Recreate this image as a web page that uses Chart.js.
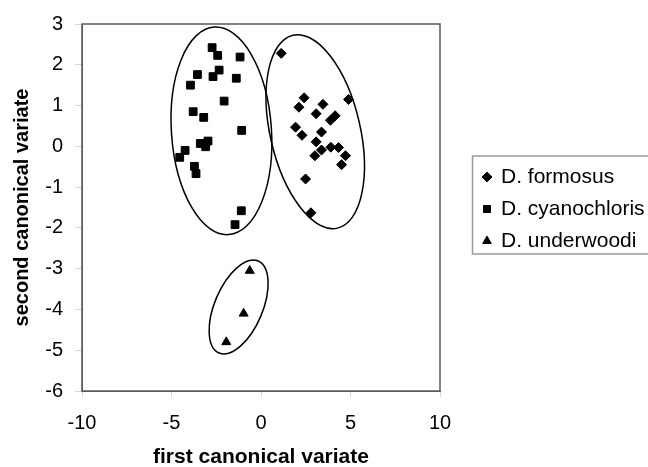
<!DOCTYPE html>
<html>
<head>
<meta charset="utf-8">
<script src="https://cdn.jsdelivr.net/npm/chart.js@4/dist/chart.umd.min.js"></script>
<style>
body{margin:0;background:#fff;}
#wrap{width:648px;height:467px;}
</style>
</head>
<body>
<div id="wrap"><canvas id="cv"></canvas></div>
<script>
// series values
const formosusX = [1.13,2.41,4.89,2.12,3.46,3.08,4.14,3.88,1.93,2.29,3.38,3.08,3.38,3.90,4.33,3.01,4.72,4.50,2.49,2.79]
const formosusY = [2.28,1.19,1.15,0.96,1.03,0.80,0.75,0.64,0.47,0.27,0.35,0.11,-0.09,-0.02,-0.03,-0.23,-0.23,-0.45,-0.80,-1.63]

const cyanoX = [-2.73,-2.42,-1.17,-2.34,-3.55,-2.68,-1.38,-3.94,-2.06,-3.79,-3.20,-1.08,-2.96,-3.39,-3.09,-4.24,-4.54,-3.72,-3.63,-1.10,-1.45]
const cyanoY = [2.42,2.23,2.19,1.87,1.76,1.71,1.67,1.50,1.11,0.85,0.71,0.39,0.13,0.07,-0.01,-0.10,-0.27,-0.49,-0.67,-1.58,-1.92]

const underX = [-0.63,-0.97,-1.94]
const underY = [-3.05,-4.10,-4.80]

const seriesNames = ["D. formosus","D. cyanochloris","D. underwoodi"]
const xTicks = [-10,-5,0,5,10]
const yTicks = [3,2,1,0,-1,-2,-3,-4,-5,-6]

// group ellipses: centre in data units, radii in px, rotation in degrees
const ellipses = [
  {cx:-2.21, cy:0.38, rx:50, ry:104, rot:-4},
  {cx:3.03, cy:0.36, rx:45, ry:99, rot:-13},
  {cx:-1.25, cy:-3.94, rx:24, ry:50, rot:23}
]

const pts = (xs,ys)=>xs.map((x,i)=>({x:x,y:ys[i]}))

const FONT = "'Liberation Sans', Arial, sans-serif"

// legend frame (px)
const LEG = {left:472.5, top:156, bottom:254}

const extras = {
  id:"extras",
  afterLayout(chart){
    const l = chart.legend
    l.left = LEG.left; l.top = LEG.top - 0.5
    l.right = 720; l.bottom = 340
    l.width = l.right - l.left; l.height = l.bottom - l.top
  },
  beforeDatasetsDraw(chart){
    const c = chart.ctx, a = chart.chartArea
    const sx = chart.scales.x, sy = chart.scales.y
    c.save()
    c.strokeStyle = "#5a5a5a"
    c.lineWidth = 1.5
    c.strokeRect(a.left, a.top, a.right-a.left, a.bottom-a.top)
    c.strokeStyle = "#000"
    c.lineWidth = 1.5
    ellipses.forEach(e=>{
      c.beginPath()
      c.ellipse(sx.getPixelForValue(e.cx), sy.getPixelForValue(e.cy), e.rx, e.ry, e.rot*Math.PI/180, 0, Math.PI*2)
      c.stroke()
    })
    c.strokeStyle = "#999"
    c.lineWidth = 1.5
    c.strokeRect(LEG.left, LEG.top, 700-LEG.left, LEG.bottom-LEG.top)
    c.restore()
  }
}

new Chart(document.getElementById("cv"),{
  type:"scatter",
  data:{
    datasets:[
      {label:seriesNames[0], data:pts(formosusX,formosusY), pointStyle:"rectRot", pointRadius:5, backgroundColor:"#000", borderColor:"#000"},
      {label:seriesNames[1], data:pts(cyanoX,cyanoY), pointStyle:"rect", pointRadius:5.5, backgroundColor:"#000", borderColor:"#000"},
      {label:seriesNames[2], data:pts(underX,underY), pointStyle:"triangle", pointRadius:5.2, backgroundColor:"#000", borderColor:"#000"}
    ]
  },
  options:{
    responsive:true,
    maintainAspectRatio:false,
    animation:false,
    layout:{padding:{top:20.7, right:208, bottom:0, left:0}},
    plugins:{
      legend:{
        position:"chartArea",
        align:"start",
        labels:{usePointStyle:true, boxHeight:7, boxWidth:7, color:"#000", padding:11, font:{family:FONT, size:21}}
      },
      tooltip:{enabled:false}
    },
    scales:{
      x:{
        type:"linear", min:-10, max:10,
        afterBuildTicks(s){ s.ticks = xTicks.map(v=>({value:v})) },
        afterFit(s){ s.height = 76 },
        grid:{drawOnChartArea:false, tickLength:6, color:"#d6d6d6"},
        border:{color:"#5a5a5a"},
        ticks:{color:"#000", font:{family:FONT, size:20}, padding:14},
        title:{display:true, text:"first canonical variate", color:"#000", font:{family:FONT, size:21, weight:"bold", lineHeight:0.9}, padding:{top:0, bottom:0}}
      },
      y:{
        type:"linear", min:-6, max:3,
        afterBuildTicks(s){ s.ticks = yTicks.map(v=>({value:v})) },
        afterFit(s){ s.width = 82 },
        grid:{drawOnChartArea:false, tickLength:7, color:"#d6d6d6"},
        border:{color:"#5a5a5a"},
        ticks:{color:"#000", font:{family:FONT, size:20}, padding:12},
        title:{display:true, text:"second canonical variate", color:"#000", font:{family:FONT, size:20, weight:"bold"}, padding:{top:10, bottom:0}}
      }
    }
  },
  plugins:[extras]
})
</script>
</body>
</html>
